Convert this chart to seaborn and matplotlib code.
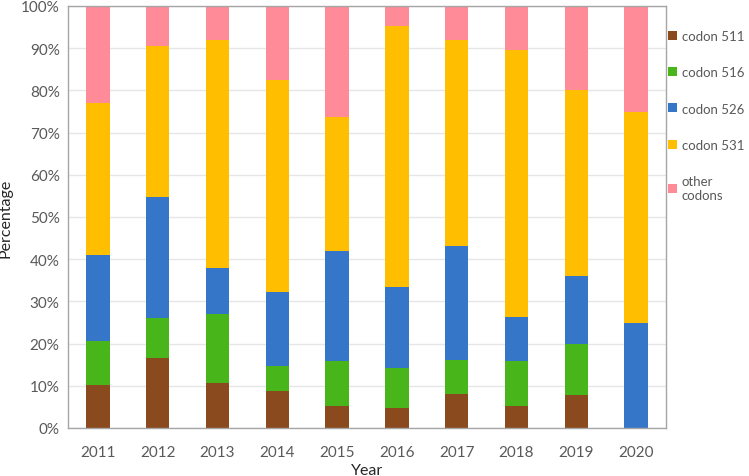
import numpy as np
import pandas as pd
import matplotlib
matplotlib.use("Agg")
import matplotlib.pyplot as plt
from matplotlib.patches import Patch
from matplotlib.ticker import PercentFormatter
import seaborn as sns

years = ["2011", "2012", "2013", "2014", "2015", "2016", "2017", "2018", "2019", "2020"]
codon_511 = [10.1, 16.5, 10.7, 8.7, 5.1, 4.7, 8.0, 5.1, 7.8, 0.0]
codon_516 = [10.4, 9.6, 16.2, 5.9, 10.7, 9.6, 8.2, 10.7, 12.2, 0.0]
codon_526 = [20.4, 28.6, 10.9, 17.6, 26.2, 19.0, 26.9, 10.4, 16.0, 25.0]
codon_531 = [36.0, 35.8, 54.1, 50.2, 31.7, 62.0, 48.8, 63.3, 44.0, 50.0]
other_codons = [23.1, 9.5, 8.1, 17.6, 26.3, 4.7, 8.1, 10.5, 20.0, 25.0]

series_names = ["codon 511", "codon 516", "codon 526", "codon 531", "other\ncodons"]
series = [codon_511, codon_516, codon_526, codon_531, other_codons]
colors = ["#8B4A1E", "#48B51B", "#3676C8", "#FFBF00", "#FF8A98"]

sns.set_theme(style="white")
plt.rcParams["font.family"] = ["Lato", "DejaVu Sans"]

fig = plt.figure(figsize=(7.49, 4.77), dpi=100)
ax = fig.add_axes([68 / 749, 1 - 429 / 477, (666 - 68) / 749, (429 - 7) / 477])

bottom = np.zeros(len(years))
for name, vals, c in zip(series_names, series, colors):
    sns.barplot(x=years, y=vals, bottom=bottom, color=c, width=0.39,
                errorbar=None, ax=ax, saturation=1, linewidth=0)
    bottom = bottom + np.array(vals)

ax.set_ylim(0, 100)
ax.set_xlim(-0.5, len(years) - 0.5)
ax.set_yticks(np.arange(0, 101, 10))
ax.yaxis.set_major_formatter(PercentFormatter(decimals=0))
ax.grid(axis="y", color="#e6e6e6", linewidth=1)
ax.set_axisbelow(True)
for s in ax.spines.values():
    s.set_visible(True)
    s.set_color("#a6a6a6")
    s.set_linewidth(1)
ax.tick_params(axis="both", length=0, labelsize=11, labelcolor="#595959")
ax.tick_params(axis="x", pad=12)
ax.tick_params(axis="y", pad=6)
ax.set_xlabel("Year", fontsize=11.5, color="#262626", labelpad=3)
ax.set_ylabel("Percentage", fontsize=11.5, color="#262626", labelpad=6)

handles = [Patch(facecolor=c, edgecolor="none") for c in colors]
leg = fig.legend(handles, series_names, loc="upper left",
                 bbox_to_anchor=(668 / 749, 1 - 31 / 477), frameon=False,
                 fontsize=9.5, labelcolor="#595959", handlelength=0.68,
                 handleheight=0.68, handletextpad=0.35, labelspacing=1.84,
                 borderaxespad=0, borderpad=0)

fig.savefig("out.png", dpi=100)
